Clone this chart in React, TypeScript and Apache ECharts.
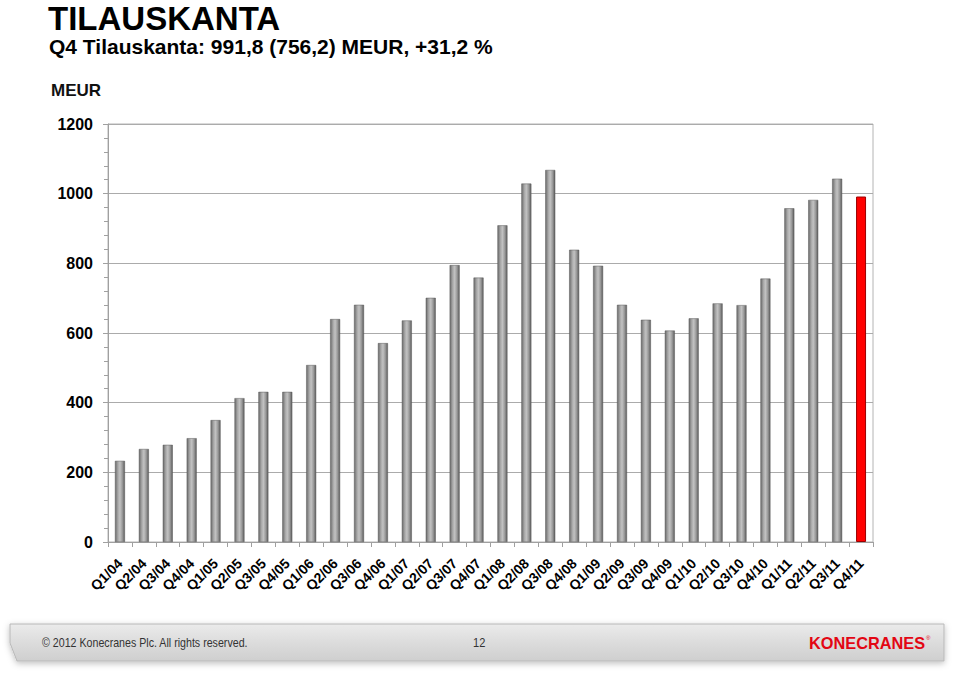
import React, { useEffect, useRef } from "react";
import * as echarts from "echarts";

const categories = [
  "Q1/04", "Q2/04", "Q3/04", "Q4/04",
  "Q1/05", "Q2/05", "Q3/05", "Q4/05",
  "Q1/06", "Q2/06", "Q3/06", "Q4/06",
  "Q1/07", "Q2/07", "Q3/07", "Q4/07",
  "Q1/08", "Q2/08", "Q3/08", "Q4/08",
  "Q1/09", "Q2/09", "Q3/09", "Q4/09",
  "Q1/10", "Q2/10", "Q3/10", "Q4/10",
  "Q1/11", "Q2/11", "Q3/11", "Q4/11",
];

const orderBook = [
  233, 267, 279, 298,
  350, 413, 431, 431,
  508, 640, 681, 571,
  636, 701, 795, 759,
  909, 1029, 1068, 839,
  793, 681, 638, 607,
  642, 685, 680, 756.2,
  958, 982, 1043, 991.8,
];

const yTicks = [0, 200, 400, 600, 800, 1000, 1200];

const titleText = "TILAUSKANTA";
const subtitleText = "Q4 Tilauskanta: 991,8 (756,2) MEUR, +31,2 %";
const unitText = "MEUR";
const footerText = "\u00A9 2012 Konecranes Plc. All rights reserved.";
const pageText = "12";
const logoText = "KONECRANES";

const FONT = "'Liberation Sans', Arial, sans-serif";

export default function App() {
  const ref = useRef<HTMLDivElement>(null);

  useEffect(() => {
    document.body.style.margin = "0";
    if (!ref.current) return;
    const chart = echarts.init(ref.current, null, { renderer: "svg" });

    const grayGrad = new echarts.graphic.LinearGradient(0, 0, 1, 0, [
      { offset: 0, color: "#6a6a6a" },
      { offset: 0.3, color: "#a9a9a9" },
      { offset: 0.5, color: "#c2c2c2" },
      { offset: 0.75, color: "#9a9a9a" },
      { offset: 1, color: "#5c5c5c" },
    ]);

    const data = orderBook.map((v, i) =>
      i === orderBook.length - 1
        ? { value: v, itemStyle: { color: "#ff0000", borderColor: "#9a0000", borderWidth: 1 } }
        : { value: v, itemStyle: { color: grayGrad, borderColor: "#5a5a5a", borderWidth: 0.5 } }
    );

    chart.setOption({
      animation: false,
      backgroundColor: "#ffffff",
      grid: {
        left: 108,
        right: 87,
        top: 124,
        bottom: 136,
        containLabel: false,
        show: true,
        borderColor: "#b4b4b4",
        borderWidth: 1,
      },
      xAxis: {
        type: "category",
        data: categories,
        axisLine: { show: true, lineStyle: { color: "#a0a0a0", width: 1 } },
        axisTick: { show: true, alignWithLabel: false, length: 5, lineStyle: { color: "#a0a0a0" } },
        axisLabel: {
          interval: 0,
          rotate: 45,
          margin: 19,
          color: "#000000",
          fontFamily: FONT,
          fontWeight: "bold",
          fontSize: 14,
        },
      },
      yAxis: {
        type: "value",
        min: yTicks[0],
        max: yTicks[yTicks.length - 1],
        interval: 200,
        axisLine: { show: true, lineStyle: { color: "#a0a0a0", width: 1 } },
        axisTick: { show: true, length: 5, lineStyle: { color: "#a0a0a0" } },
        minorTick: { show: true, splitNumber: 5, length: 4, lineStyle: { color: "#a0a0a0" } },
        splitLine: { show: true, lineStyle: { color: "#ababab", width: 1 } },
        axisLabel: {
          margin: 15,
          color: "#000000",
          fontFamily: FONT,
          fontWeight: "bold",
          fontSize: 16,
          formatter: (v: number) => String(v),
        },
      },
      series: [
        {
          type: "bar",
          data,
          barWidth: 10,
        },
      ],
      graphic: [
        {
          type: "text",
          left: 48,
          top: 2,
          style: {
            text: titleText,
            font: `bold 33px ${FONT}`,
            fill: "#000000",
          },
        },
        {
          type: "text",
          left: 49,
          top: 36,
          style: {
            text: subtitleText,
            font: `bold 21px ${FONT}`,
            fill: "#000000",
          },
        },
        {
          type: "text",
          left: 51,
          top: 82,
          style: {
            text: unitText,
            font: `bold 17px ${FONT}`,
            fill: "#111111",
          },
        },
        {
          type: "polygon",
          shape: {
            points: [
              [10, 624],
              [944, 624],
              [944, 661],
              [17, 661],
              [10, 643],
            ],
          },
          style: {
            fill: new echarts.graphic.LinearGradient(0, 0, 0, 1, [
              { offset: 0, color: "#ebebeb" },
              { offset: 0.5, color: "#dcdcdc" },
              { offset: 1, color: "#cfcfcf" },
            ]),
            stroke: "#b8b8b8",
            lineWidth: 1,
            shadowBlur: 6,
            shadowColor: "rgba(0,0,0,0.25)",
            shadowOffsetY: 2,
          },
        },
        {
          type: "text",
          x: 42,
          y: 643,
          scaleX: 0.82,
          style: {
            text: footerText,
            font: `13px ${FONT}`,
            fill: "#333333",
            verticalAlign: "middle",
          },
        },
        {
          type: "text",
          x: 473,
          y: 643,
          scaleX: 0.85,
          style: {
            text: pageText,
            font: `13px ${FONT}`,
            fill: "#333333",
            verticalAlign: "middle",
          },
        },
        {
          type: "text",
          x: 809,
          y: 643,
          scaleX: 0.96,
          style: {
            text: logoText,
            font: `bold 17px ${FONT}`,
            fill: "#e30613",
            verticalAlign: "middle",
          },
        },
        {
          type: "text",
          x: 926,
          y: 638,
          style: {
            text: "\u00AE",
            font: `6px ${FONT}`,
            fill: "#e30613",
            verticalAlign: "middle",
          },
        },
      ],
    });

    return () => chart.dispose();
  }, []);

  return <div ref={ref} style={{ width: 960, height: 678 }} />;
}
